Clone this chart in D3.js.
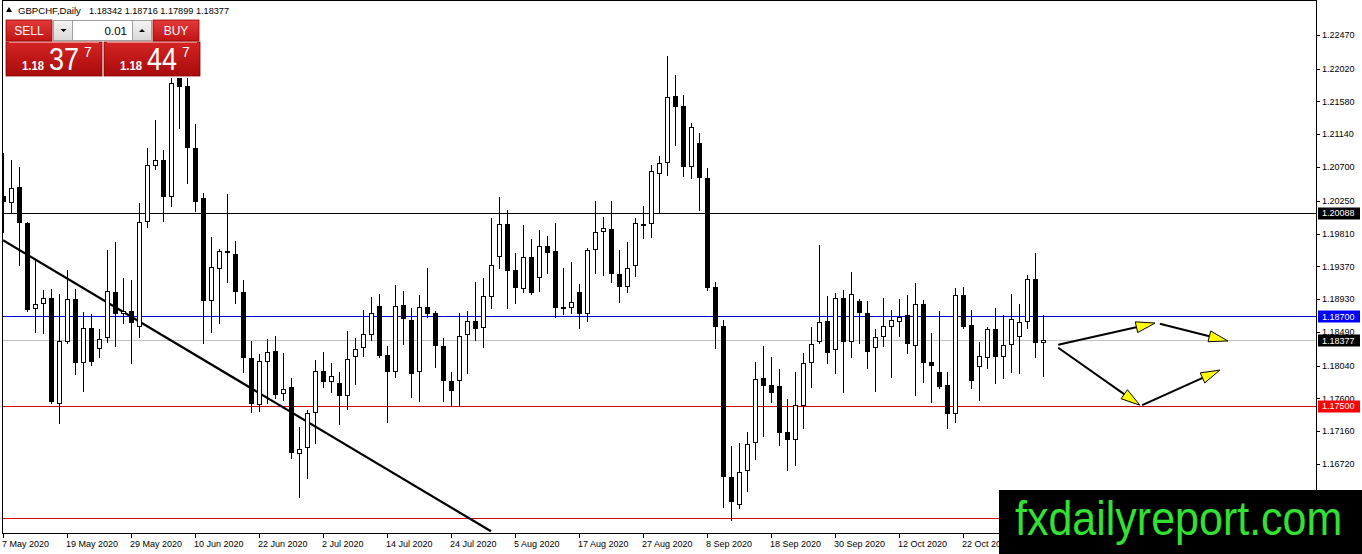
<!DOCTYPE html>
<html><head><meta charset="utf-8">
<script src="https://cdn.jsdelivr.net/npm/d3@7"></script>
<style>
body{margin:0;background:#fff;}
svg{display:block;}
text{font-family:"Liberation Sans",Arial,sans-serif;}
</style>
</head><body>
<svg id="c" width="1362" height="554"></svg>
<script>
// ---------------- DATA ----------------
const symbol = "GBPCHF,Daily";
const lastQuote = [1.18342, 1.18716, 1.17899, 1.18377]; // O H L C of the last bar
const bidPrice = 1.18377;
const lotSize = "0.01";
const sellQuote = ["1.18", "37", "7"];
const buyQuote = ["1.18", "44", "7"];

const opens = [1.2031,1.2022,1.2043,1.1995,1.1880,1.1887,1.1895,1.1753,1.1836,1.1893,
1.1808,1.1854,1.1826,1.1841,1.1903,1.1873,1.1877,1.1856,1.1996,1.2072,
1.2080,1.2030,1.2192,1.2179,1.2096,1.2029,1.1891,1.1933,1.1958,1.1954,
1.1903,1.1814,1.1751,1.1809,1.1824,1.1766,1.1775,1.1686,1.1694,1.1740,
1.1797,1.1782,1.1781,1.1763,1.1816,1.1828,1.1845,1.1884,1.1818,1.1795,
1.1885,1.1865,1.1795,1.1883,1.1875,1.1830,1.1783,1.1783,1.1845,1.1864,
1.1854,1.1896,1.1950,1.1994,1.1932,1.1907,1.1950,1.1921,1.1964,1.1958,
1.1883,1.1881,1.1903,1.1873,1.1959,1.1983,1.1987,1.1927,1.1909,1.1937,
1.1994,1.1994,1.2061,1.2075,1.2165,1.2152,1.2070,1.2102,1.2055,1.1909,
1.1857,1.1655,1.1617,1.1663,1.1700,1.1787,1.1778,1.1777,1.1715,1.1704,
1.1750,1.1808,1.1836,1.1864,1.1825,1.1895,1.1836,1.1891,1.1875,1.1828,
1.1842,1.1856,1.1862,1.1872,1.1830,1.1887,1.1809,1.1795,1.1778,1.1739,
1.1899,1.1858,1.1802,1.1814,1.1853,1.1816,1.1831,1.1842,1.1862,1.1920,
1.18342];

const highs = [1.2089,1.2080,1.2070,1.1996,1.1946,1.1905,1.1907,1.1900,1.1932,1.1907,
1.1876,1.1873,1.1853,1.1959,1.1970,1.1921,1.1919,1.2022,1.2096,1.2133,
1.2093,1.2189,1.2197,1.2189,1.2128,1.2035,1.1976,1.1960,1.2034,1.1971,
1.1919,1.1837,1.1820,1.1840,1.1844,1.1821,1.1787,1.1722,1.1745,1.1812,
1.1822,1.1808,1.1795,1.1850,1.1841,1.1879,1.1896,1.1900,1.1830,1.1912,
1.1904,1.1881,1.1899,1.1935,1.1877,1.1841,1.1795,1.1875,1.1877,1.1916,
1.1921,1.2002,1.2030,1.2013,1.1955,1.1992,1.1974,1.1986,1.1978,1.1995,
1.1935,1.1943,1.1913,1.1962,1.2025,1.2003,1.2025,1.1959,1.1970,1.2002,
1.2018,1.2073,1.2085,1.2219,1.2193,1.2167,1.2129,1.2116,1.2069,1.1916,
1.1865,1.1696,1.1700,1.1715,1.1809,1.1830,1.1816,1.1799,1.1759,1.1795,
1.1821,1.1856,1.1966,1.1897,1.1901,1.1905,1.1929,1.1893,1.1891,1.1853,
1.1895,1.1879,1.1893,1.1899,1.1915,1.1892,1.1848,1.1877,1.1795,1.1908,
1.1909,1.1879,1.1836,1.1856,1.1881,1.1872,1.1900,1.1887,1.1925,1.1955,
1.18716];

const lows = [1.1983,1.2009,1.1939,1.1877,1.1849,1.1848,1.1754,1.1727,1.1834,1.1793,
1.1770,1.1805,1.1816,1.1836,1.1830,1.1861,1.1808,1.1842,1.1990,1.2067,
1.1998,1.2018,1.2122,1.2049,1.2011,1.1834,1.1849,1.1861,1.1916,1.1888,
1.1795,1.1742,1.1743,1.1754,1.1761,1.1758,1.1680,1.1628,1.1653,1.1700,
1.1775,1.1769,1.1726,1.1746,1.1779,1.1817,1.1838,1.1816,1.1728,1.1789,
1.1833,1.1762,1.1757,1.1869,1.1802,1.1757,1.1750,1.1750,1.1794,1.1838,
1.1829,1.1881,1.1935,1.1881,1.1888,1.1903,1.1900,1.1904,1.1928,1.1869,
1.1873,1.1875,1.1854,1.1864,1.1928,1.1925,1.1916,1.1889,1.1903,1.1924,
1.1975,1.1976,1.2009,1.2059,1.2100,1.2058,1.2055,1.2013,1.1905,1.1828,
1.1615,1.1597,1.1613,1.1636,1.1679,1.1710,1.1755,1.1698,1.1664,1.1671,
1.1720,1.1775,1.1834,1.1808,1.1794,1.1769,1.1816,1.1834,1.1801,1.1770,
1.1830,1.1789,1.1844,1.1821,1.1765,1.1782,1.1755,1.1774,1.1720,1.1728,
1.1854,1.1774,1.1758,1.1801,1.1781,1.1787,1.1795,1.1794,1.1854,1.1816,
1.17899];

const closes = [1.2023,1.2042,1.1995,1.1879,1.1887,1.1895,1.1755,1.1837,1.1893,1.1808,
1.1854,1.1809,1.1840,1.1904,1.1873,1.1877,1.1861,1.1996,1.2073,1.2080,
1.2030,1.2183,1.2177,1.2096,1.2023,1.1891,1.1936,1.1958,1.1955,1.1903,
1.1814,1.1753,1.1810,1.1822,1.1765,1.1773,1.1687,1.1692,1.1740,1.1797,
1.1782,1.1790,1.1763,1.1813,1.1826,1.1846,1.1875,1.1817,1.1795,1.1884,
1.1866,1.1793,1.1883,1.1873,1.1830,1.1783,1.1770,1.1844,1.1864,1.1853,
1.1897,1.1939,1.1994,1.1931,1.1908,1.1950,1.1901,1.1964,1.1955,1.1881,
1.1880,1.1889,1.1873,1.1959,1.1983,1.1988,1.1927,1.1909,1.1935,1.1995,
1.1991,1.2065,1.2075,1.2164,1.2151,1.2070,1.2124,1.2055,1.1908,1.1856,
1.1655,1.1621,1.1661,1.1699,1.1786,1.1777,1.1767,1.1714,1.1704,1.1751,
1.1808,1.1833,1.1862,1.1821,1.1895,1.1836,1.1900,1.1875,1.1822,1.1842,
1.1857,1.1865,1.1869,1.1833,1.1887,1.1808,1.1804,1.1775,1.1739,1.1899,
1.1856,1.1783,1.1817,1.1853,1.1816,1.1831,1.1866,1.1862,1.1920,1.1834,
1.18377];

const xTickLabels = ["7 May 2020","19 May 2020","29 May 2020","10 Jun 2020","22 Jun 2020",
"2 Jul 2020","14 Jul 2020","24 Jul 2020","5 Aug 2020","17 Aug 2020","27 Aug 2020",
"8 Sep 2020","18 Sep 2020","30 Sep 2020","12 Oct 2020","22 Oct 2020"];
const xTickEvery = 8; // bars between date labels

const yTickValues = [1.22470,1.22020,1.21580,1.21140,1.20700,1.20250,1.19810,1.19370,
1.18930,1.18490,1.18040,1.17600,1.17160,1.16720];

const levelPrices = [1.20088, 1.18700, 1.17500, 1.16000];
const labelledLevels = [1.20088, 1.18700, 1.17500];

// trend line: bar index / price pairs
const trendBars = [0, 61];
const trendPrices = [1.1972, 1.1582];

// projection arrows (bar index / price)
const arrowFromBars = [131.9, 144.6, 131.9, 142.4];
const arrowFromPrices = [1.1832, 1.1860, 1.1828, 1.1751];
const arrowToBars = [144.0, 153.1, 142.1, 152.1];
const arrowToPrices = [1.1861, 1.1837, 1.1751, 1.1798];

const watermark = "fxdailyreport.com";

// ---------------- CHART ----------------
const svg = d3.select("#c");
const PL = 2, PR = 1316, PT = 0, PB = 533;
const x = d3.scaleLinear().domain([0, 130]).range([3, 1043]);
const y = d3.scaleLinear().domain([1.15797, 1.22939]).range([533, 0]);

svg.append("rect").attr("width",1362).attr("height",554).attr("fill","#fff");

const defs = svg.append("defs");
defs.append("clipPath").attr("id","clip").append("rect")
  .attr("x",PL+1).attr("y",PT+1).attr("width",PR-PL-1).attr("height",PB-PT-1);
function grad(id, c1, c2){
  const g = defs.append("linearGradient").attr("id",id).attr("x1",0).attr("y1",0).attr("x2",0).attr("y2",1);
  g.append("stop").attr("offset","0%").attr("stop-color",c1);
  g.append("stop").attr("offset","100%").attr("stop-color",c2);
}
grad("btn","#e23a3a","#c01414");
grad("box","#d42424","#a80a0a");
grad("gray","#f4f4f4","#d8d8d8");

const g = svg.append("g").attr("clip-path","url(#clip)");

// level lines
const levelColors = ["#000000","#0000d8","#d40000","#d40000"];
g.selectAll(".lvl").data(levelPrices).join("line")
  .attr("x1",PL).attr("x2",PR)
  .attr("y1",d=>Math.round(y(d))+0.5).attr("y2",d=>Math.round(y(d))+0.5)
  .attr("stroke",(d,i)=>levelColors[i]).attr("stroke-width",1);
// bid line
g.append("line").attr("x1",PL).attr("x2",PR)
  .attr("y1",Math.round(y(bidPrice))+0.5).attr("y2",Math.round(y(bidPrice))+0.5)
  .attr("stroke","#c0c0c0").attr("stroke-width",1);

// trend line
g.append("line")
  .attr("x1",x(trendBars[0])).attr("y1",y(trendPrices[0]))
  .attr("x2",x(trendBars[1])).attr("y2",y(trendPrices[1]))
  .attr("stroke","#000").attr("stroke-width",2.2);

// candles
const bars = opens.map((o,i)=>({i, o, h:highs[i], l:lows[i], c:closes[i]}));
const cg = g.append("g").attr("shape-rendering","crispEdges");
cg.selectAll(".wick").data(bars).join("line")
  .attr("x1",d=>Math.round(x(d.i))+0.5).attr("x2",d=>Math.round(x(d.i))+0.5)
  .attr("y1",d=>Math.round(y(d.h))).attr("y2",d=>Math.round(y(d.l))+1)
  .attr("stroke","#000").attr("stroke-width",1);
cg.selectAll(".body").data(bars).join("rect")
  .attr("x",d=> d.c>=d.o ? Math.round(x(d.i))-1.5 : Math.round(x(d.i))-2)
  .attr("width",d=> d.c>=d.o ? 4 : 5)
  .attr("y",d=>{
    const t = Math.round(y(Math.max(d.o,d.c)));
    return d.c>=d.o ? t+0.5 : t;
  })
  .attr("height",d=>{
    const t = Math.round(y(Math.max(d.o,d.c))), b = Math.round(y(Math.min(d.o,d.c)));
    return d.c>=d.o ? Math.max(1,b-t-1) : Math.max(1,b-t);
  })
  .attr("fill",d=> d.c>=d.o ? "#fff" : "#000")
  .attr("stroke",d=> d.c>=d.o ? "#000" : "none").attr("stroke-width",1);

// arrows
const ag = g.append("g");
arrowFromBars.forEach((fb,k)=>{
  const x1 = x(fb), y1 = y(arrowFromPrices[k]);
  const x2 = x(arrowToBars[k]), y2 = y(arrowToPrices[k]);
  const dx = x2-x1, dy = y2-y1, len = Math.hypot(dx,dy);
  const ux = dx/len, uy = dy/len, L = 19, Wd = 5.5;
  const bx = x2-ux*L, by = y2-uy*L;
  ag.append("line").attr("x1",x1).attr("y1",y1).attr("x2",bx+ux*2).attr("y2",by+uy*2)
    .attr("stroke","#000").attr("stroke-width",2);
  const pts = [[x2,y2],[bx-uy*Wd,by+ux*Wd],[bx+uy*Wd,by-ux*Wd]];
  ag.append("polygon").attr("points",pts.map(p=>p.join(",")).join(" "))
    .attr("fill","#ffff00").attr("stroke","#000").attr("stroke-width",1);
});

// frame
svg.append("rect").attr("x",PL+0.5).attr("y",PT+0.5).attr("width",PR-PL).attr("height",PB-PT)
  .attr("fill","none").attr("stroke","#000").attr("stroke-width",1).attr("shape-rendering","crispEdges");

// right price axis
const ya = svg.append("g");
ya.selectAll("line").data(yTickValues).join("line")
  .attr("x1",PR).attr("x2",PR+4)
  .attr("y1",d=>Math.round(y(d))+0.5).attr("y2",d=>Math.round(y(d))+0.5)
  .attr("stroke","#000").attr("shape-rendering","crispEdges");
ya.selectAll("text").data(yTickValues).join("text")
  .attr("x",PR+6).attr("y",d=>y(d)).attr("dy","0.35em")
  .attr("font-size","9px").attr("fill","#000")
  .text(d=>d3.format(".5f")(d));

// price labels
const labelColors = ["#000000","#0000ff","#ff0000"];
const fmt = d3.format(".5f");
function priceTag(p, col){
  const yy = Math.round(y(p));
  svg.append("rect").attr("x",PR+2).attr("y",yy-5.5).attr("width",42).attr("height",12)
    .attr("fill",col);
  svg.append("text").attr("x",PR+6).attr("y",y(p)).attr("dy","0.38em")
    .attr("font-size","9px").attr("fill","#fff").text(fmt(p));
}
labelledLevels.forEach((p,i)=>priceTag(p,labelColors[i]));
priceTag(bidPrice,"#000");

// bottom date axis
const xa = svg.append("g");
const tickIdx = xTickLabels.map((t,i)=>i*xTickEvery);
xa.selectAll("line").data(tickIdx).join("line")
  .attr("x1",d=>Math.round(x(d))+0.5).attr("x2",d=>Math.round(x(d))+0.5)
  .attr("y1",PB).attr("y2",PB+5).attr("stroke","#000").attr("shape-rendering","crispEdges");
xa.selectAll("text").data(tickIdx).join("text")
  .attr("x",d=>x(d)-1).attr("y",547)
  .attr("font-size","9px").attr("fill","#000")
  .text((d,i)=>xTickLabels[i]);

// header
svg.append("path").attr("d","M6,12 L9,7 L12,12 Z").attr("fill","#000");
svg.append("text").attr("x",18).attr("y",14).attr("font-size","9.6px").text(symbol);
svg.append("text").attr("x",89).attr("y",14).attr("font-size","9.6px")
  .attr("textLength",140).attr("lengthAdjust","spacingAndGlyphs")
  .text(lastQuote.map(v=>fmt(v)).join(" "));

// one-click trading panel
const tp = svg.append("g");
tp.append("rect").attr("x",4).attr("y",18).attr("width",197).attr("height",60).attr("fill","#fff");
// SELL / BUY buttons
[[6,"SELL"],[153,"BUY"]].forEach(([bx,label])=>{
  tp.append("rect").attr("x",bx).attr("y",20).attr("width",46).attr("height",21)
    .attr("fill","url(#btn)").attr("stroke","#9a0000").attr("stroke-width",0.8);
  tp.append("text").attr("x",bx+23).attr("y",35).attr("text-anchor","middle")
    .attr("font-size","12px").attr("fill","#fff").text(label);
});
// lot control
tp.append("rect").attr("x",53.5).attr("y",20.5).attr("width",98).attr("height",20)
  .attr("fill","#fff").attr("stroke","#a0a0a0");
tp.append("rect").attr("x",53.5).attr("y",20.5).attr("width",19).attr("height",20)
  .attr("fill","url(#gray)").attr("stroke","#a0a0a0");
tp.append("rect").attr("x",132.5).attr("y",20.5).attr("width",19).attr("height",20)
  .attr("fill","url(#gray)").attr("stroke","#a0a0a0");
tp.append("path").attr("d","M60.5,29 L66.5,29 L63.5,32 Z").attr("fill","#000");
tp.append("path").attr("d","M139,32 L145,32 L142,29 Z").attr("fill","#000");
tp.append("text").attr("x",127).attr("y",35).attr("text-anchor","end")
  .attr("font-size","11.5px").attr("fill","#000").text(lotSize);
// price boxes
[[6,sellQuote],[104,buyQuote]].forEach(([bx,q])=>{
  tp.append("rect").attr("x",bx).attr("y",42).attr("width",96).attr("height",34)
    .attr("fill","url(#box)").attr("stroke","#8a0000").attr("stroke-width",0.8);
  tp.append("line").attr("x1",bx+3).attr("x2",bx+93).attr("y1",42.5).attr("y2",42.5)
    .attr("stroke","#f08080").attr("stroke-width",1);
  tp.append("text").attr("x",bx+16).attr("y",70).attr("font-size","13px").attr("font-weight","bold")
    .attr("fill","#fff").attr("textLength",22).attr("lengthAdjust","spacingAndGlyphs").text(q[0]);
  tp.append("text").attr("x",bx+43).attr("y",70).attr("font-size","32px")
    .attr("fill","#fff").attr("textLength",30).attr("lengthAdjust","spacingAndGlyphs").text(q[1]);
  tp.append("text").attr("x",bx+78).attr("y",57).attr("font-size","14px")
    .attr("fill","#fff").text(q[2]);
});

// watermark
svg.append("rect").attr("x",999).attr("y",490).attr("width",363).attr("height",64).attr("fill","#000");
svg.append("text").attr("transform","translate(1015,535) scale(1,1.1)")
  .attr("x",0).attr("y",0).attr("font-size","43px")
  .attr("fill","#33e033").text(watermark);
</script>
</body></html>
